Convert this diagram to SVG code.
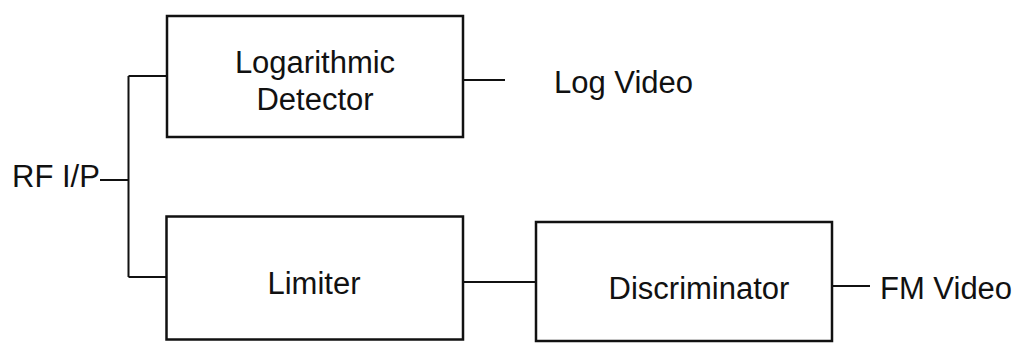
<svg xmlns="http://www.w3.org/2000/svg" width="1021" height="343" viewBox="0 0 1021 343">
<style>
.box{fill:#fff;stroke:#111;stroke-width:2.5}
.ln{fill:none;stroke:#111;stroke-width:2}
text{font-family:"Liberation Sans",Arial,sans-serif;font-size:31px;fill:#111}
.c{text-anchor:middle}
</style>
<rect width="1021" height="343" fill="#fff"/>
<g id="connectors">
<path class="ln" d="M100 180H128.5M128.5 76V277M128.5 76H167M128.5 277H167"/>
<path class="ln" d="M463 80H505"/>
<path class="ln" d="M463 282H536"/>
<path class="ln" d="M832 286H870"/>
</g>
<g id="rf-ip"><text x="12" y="187">RF I/P</text></g>
<g id="log-detector">
<rect class="box" x="167" y="16" width="296" height="121"/>
<text class="c" x="315" y="73">Logarithmic</text>
<text class="c" x="315" y="110">Detector</text>
</g>
<g id="log-video"><text x="554" y="93">Log Video</text></g>
<g id="limiter">
<rect class="box" x="166.5" y="216.5" width="296.5" height="123"/>
<text class="c" x="314" y="294">Limiter</text>
</g>
<g id="discriminator">
<rect class="box" x="536" y="222" width="296" height="119"/>
<text class="c" x="699" y="299">Discriminator</text>
</g>
<g id="fm-video"><text x="880" y="299">FM Video</text></g>
</svg>
